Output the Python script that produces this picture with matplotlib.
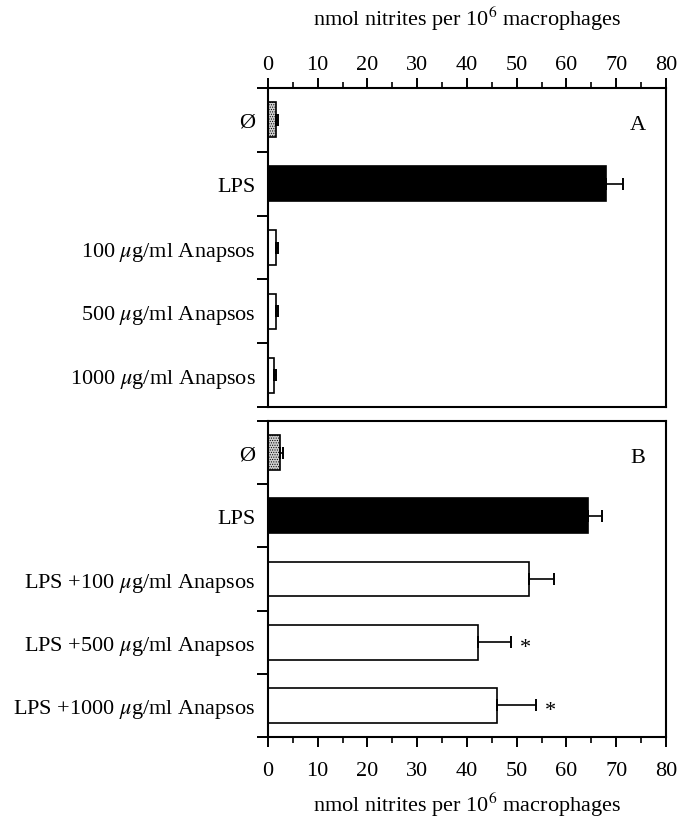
import matplotlib
matplotlib.use('Agg')
import matplotlib.pyplot as plt

plt.rcParams['font.family'] = ['Liberation Serif', 'DejaVu Serif']
plt.rcParams['mathtext.fontset'] = 'stix'
plt.rcParams['hatch.color'] = '#444444'
plt.rcParams['hatch.linewidth'] = 0.5

# panel A
labels_a = ['Ø', 'LPS', r'100 $\mu$g/ml Anapsos', r'500 $\mu$g/ml Anapsos', r'1000 $\mu$g/ml Anapsos']
values_a = [1.7, 68.0, 1.7, 1.7, 1.2]
errors_a = [0.4, 3.4, 0.4, 0.4, 0.5]

# panel B
labels_b = ['Ø', 'LPS', r'LPS +100 $\mu$g/ml Anapsos', r'LPS +500 $\mu$g/ml Anapsos',
            r'LPS +1000 $\mu$g/ml Anapsos']
values_b = [2.4, 64.4, 52.4, 42.2, 46.0]
errors_b = [0.7, 2.8, 5.0, 6.6, 7.8]
signif_b = [False, False, False, True, True]

xlabel = r'nmol nitrites per 10$^6$ macrophages'
FS = 16

fig = plt.figure(figsize=(6.81, 8.20), dpi=100)
ax_a = fig.add_axes([0.3935, 0.5024, 0.5844, 0.3891])
ax_b = fig.add_axes([0.3935, 0.1000, 0.5844, 0.3854])


def draw_panel(ax, labels, values, errors, letter):
    n = len(values)
    pos = list(range(n))
    faces = ['#cfcfcf', 'black'] + ['white'] * (n - 2)
    hatches = ['.......', None] + [None] * (n - 2)
    for p, v, fc, h in zip(pos, values, faces, hatches):
        ax.barh(p, v, height=0.55, color=fc, edgecolor='black', linewidth=1.2,
                hatch=h, zorder=2)
    ax.errorbar(values, pos, xerr=[[0] * n, errors], fmt='none', ecolor='black',
                elinewidth=1.2, capsize=4.5, capthick=1.4, zorder=3)
    ax.set_xlim(0, 80)
    ax.set_ylim(n - 0.5, -0.5)
    ax.set_yticks([i - 0.5 for i in range(n + 1)])
    ax.set_yticklabels([])
    ax.set_yticks(pos, minor=True)
    ax.set_yticklabels(labels, minor=True, fontsize=FS)
    ax.tick_params(axis='y', which='major', direction='out', length=8, width=1.4)
    ax.tick_params(axis='y', which='minor', length=0, pad=9)
    ax.set_xticks(range(0, 81, 10))
    ax.set_xticks(range(5, 80, 10), minor=True)
    for s in ax.spines.values():
        s.set_linewidth(1.5)
    ax.text(0.93, 0.885, letter, transform=ax.transAxes, fontsize=FS,
            ha='center', va='center')


draw_panel(ax_a, labels_a, values_a, errors_a, 'A')
draw_panel(ax_b, labels_b, values_b, errors_b, 'B')

ax_a.xaxis.set_ticks_position('top')
ax_a.xaxis.set_label_position('top')
ax_a.tick_params(axis='x', which='major', direction='out', length=7, width=1.4,
                 labelsize=FS, pad=3)
ax_a.tick_params(axis='x', which='minor', direction='out', length=4, width=1.2)
ax_a.set_xlabel(xlabel, fontsize=FS, labelpad=22)

ax_b.xaxis.set_ticks_position('bottom')
ax_b.tick_params(axis='x', which='major', direction='out', length=7, width=1.4,
                 labelsize=FS, pad=10)
ax_b.tick_params(axis='x', which='minor', direction='out', length=4, width=1.2)
ax_b.set_xlabel(xlabel, fontsize=FS, labelpad=7)

for i, (v, e, s) in enumerate(zip(values_b, errors_b, signif_b)):
    if s:
        ax_b.text(v + e + 3.0, i + 0.08, '*', fontsize=FS, ha='center', va='center')

fig.savefig('out.png', dpi=100)
